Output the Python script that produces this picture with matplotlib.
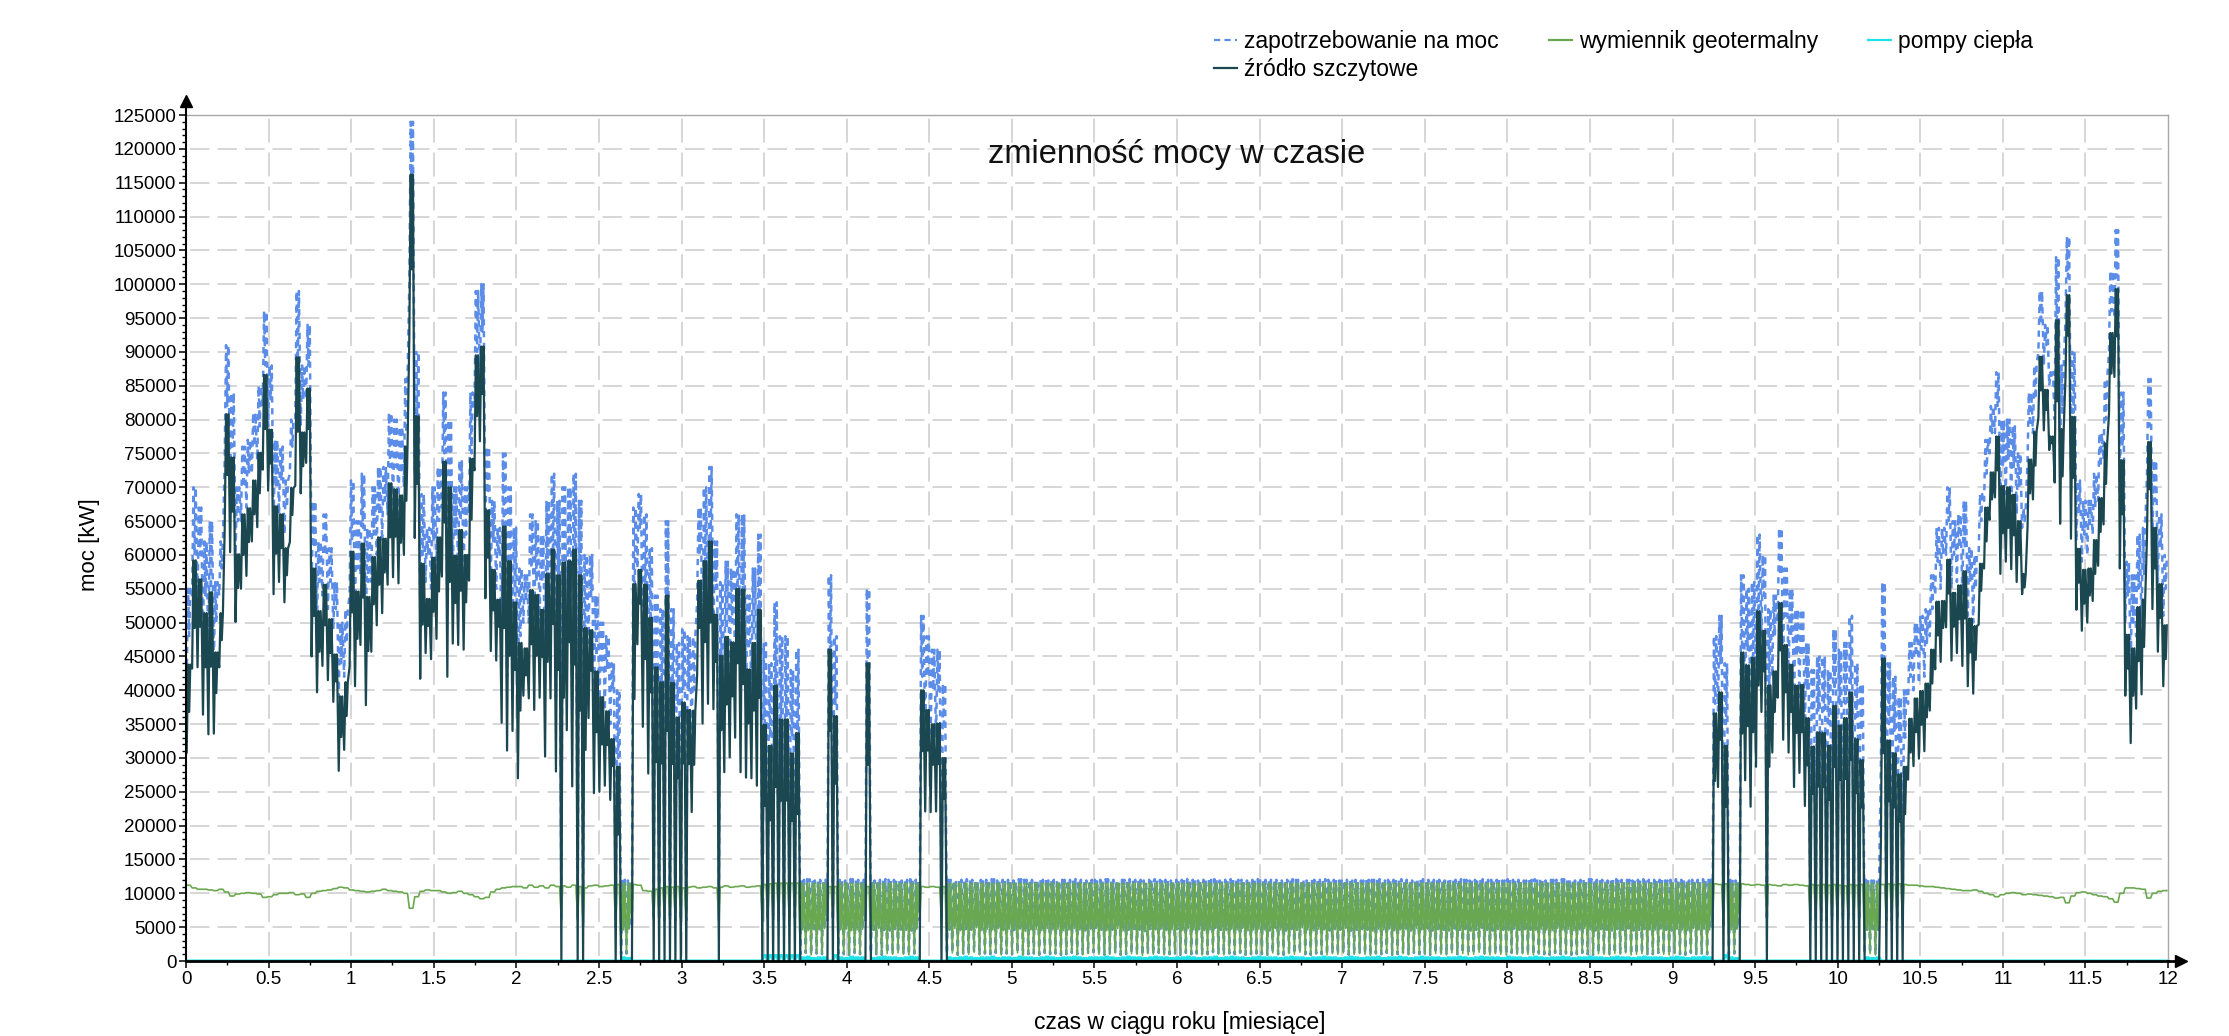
import numpy as np
import matplotlib
matplotlib.use("Agg")
import matplotlib.pyplot as plt
from matplotlib.lines import Line2D
from matplotlib.ticker import MultipleLocator, FuncFormatter

plt.rcParams['font.family'] = ['Liberation Sans', 'DejaVu Sans']
plt.rcParams['lines.scale_dashes'] = False

# ---------------------------------------------------------------------------
# Daily heat demand of the network, thousands of kW (one value per day of year)
# peak: daily maximum, dip: midday lower level, night: overnight minimum
# ---------------------------------------------------------------------------
demand_peak = [
    55, 70, 67, 62, 65, 56, 62, 91, 84, 70,
    76, 77, 81, 85, 96, 88, 77, 76, 71, 80,
    99, 88, 94, 68, 62, 66, 61, 56, 50, 52,
    71, 65, 72, 64, 70, 73, 73, 81, 80, 79,
    86, 124, 90, 69, 64, 70, 73, 84, 80, 70,
    74, 70, 84, 99, 100, 76, 68, 64, 75, 70,
    64, 58, 57, 66, 65, 63, 68, 72, 68, 70,
    70, 72, 68, 60, 60, 54, 50, 48, 44, 40,
    12.0, 11.9, 67, 69, 66, 61, 54, 52, 65, 52,
    47, 49, 48, 48, 67, 70, 73, 62, 56, 59,
    58, 66, 66, 54, 58, 63, 47, 44, 53, 48,
    48, 43, 46, 12.0, 12.1, 11.9, 12.0, 12.0, 57, 48,
    12.0, 11.9, 12.1, 12.0, 12.0, 55, 11.9, 12.0, 12.1, 12.0,
    12.0, 11.9, 12.0, 12.1, 12.0, 51, 48, 46, 46, 41,
    12.0, 11.9, 12.0, 12.1, 12.0, 11.9, 12.0, 12.0, 12.1, 11.9,
    12.0, 12.0, 11.9, 12.1, 12.0, 12.0, 11.9, 12.0, 12.1, 12.0,
    11.9, 12.0, 12.0, 12.1, 12.0, 11.9, 12.0, 12.0, 12.0, 12.1,
    12.0, 11.9, 12.0, 12.1, 12.0, 12.0, 11.9, 12.0, 12.1, 12.0,
    12.0, 11.9, 12.0, 12.0, 12.1, 12.0, 11.9, 12.0, 12.0, 12.1,
    11.9, 12.0, 12.1, 12.0, 12.0, 11.9, 12.0, 12.1, 12.0, 12.0,
    12.0, 11.9, 12.0, 12.1, 12.0, 12.0, 11.9, 12.0, 12.0, 12.1,
    12.0, 12.0, 11.9, 12.0, 12.1, 12.0, 11.9, 12.0, 12.0, 12.1,
    11.9, 12.0, 12.0, 12.1, 12.0, 11.9, 12.0, 12.1, 12.0, 12.0,
    12.0, 11.9, 12.0, 12.0, 12.1, 12.0, 11.9, 12.0, 12.1, 12.0,
    12.0, 12.0, 11.9, 12.1, 12.0, 12.0, 11.9, 12.0, 12.1, 12.0,
    11.9, 12.0, 12.0, 12.1, 12.0, 11.9, 12.0, 12.0, 12.1, 12.0,
    12.0, 11.9, 12.0, 12.1, 12.0, 12.0, 11.9, 12.0, 12.1, 12.0,
    12.0, 12.0, 11.9, 12.0, 12.1, 12.0, 11.9, 12.0, 12.0, 12.1,
    12.0, 48, 51, 44, 12.0, 11.9, 57, 55, 56, 63,
    60, 52, 54, 64, 58, 55, 52, 52, 47, 43,
    45, 45, 43, 49, 46, 47, 51, 44, 41, 12.0,
    11.9, 12.0, 56, 44, 42, 39, 40, 47, 50, 51,
    52, 57, 64, 64, 70, 65, 66, 68, 61, 60,
    69, 77, 82, 87, 80, 80, 79, 75, 67, 84,
    88, 99, 94, 87, 104, 88, 107, 90, 71, 68,
    68, 72, 78, 86, 102, 108, 84, 59, 57, 63,
    64, 86, 74, 66, 60,
]

demand_dip = [
    48, 60, 60, 54, 54, 50, 58, 82, 76, 65,
    70, 72, 76, 79, 88, 83, 70, 71, 67, 76,
    88, 83, 88, 61, 56, 60, 56, 52, 44, 47,
    62, 58, 64, 56, 63, 66, 68, 73, 73, 72,
    78, 110, 80, 60, 60, 62, 65, 75, 66, 63,
    65, 63, 75, 90, 93, 69, 62, 60, 60, 56,
    54, 48, 53, 58, 56, 56, 55, 61, 54, 50,
    58, 55, 48, 42, 54, 45, 43, 43, 40, 30,
    4.6, 4.7, 50, 64, 55, 50, 40, 40, 45, 40,
    38, 40, 40, 40, 60, 58, 61, 55, 45, 49,
    50, 55, 52, 46, 48, 50, 35, 33, 38, 36,
    36, 33, 34, 4.6, 4.5, 4.7, 4.6, 4.8, 45, 38,
    4.6, 4.7, 4.5, 4.6, 4.7, 40, 4.6, 4.8, 4.6, 4.5,
    4.7, 4.6, 4.6, 4.5, 4.7, 42, 42, 40, 40, 35,
    4.6, 4.8, 4.5, 4.7, 4.6, 4.9, 4.5, 4.7, 4.6, 4.8,
    4.5, 4.7, 4.6, 4.8, 4.4, 4.6, 4.7, 4.5, 4.8, 4.6,
    4.7, 4.5, 4.6, 4.8, 4.6, 4.5, 4.7, 4.9, 4.6, 4.5,
    4.6, 4.8, 4.5, 4.6, 4.7, 4.6, 4.4, 4.7, 4.6, 4.8,
    4.5, 4.6, 4.7, 4.5, 4.8, 4.6, 4.7, 4.5, 4.6, 4.9,
    4.6, 4.5, 4.7, 4.6, 4.8, 4.5, 4.6, 4.7, 4.6, 4.5,
    4.8, 4.6, 4.5, 4.7, 4.6, 4.9, 4.6, 4.5, 4.7, 4.6,
    4.5, 4.7, 4.6, 4.8, 4.5, 4.6, 4.7, 4.6, 4.4, 4.7,
    4.6, 4.8, 4.5, 4.6, 4.7, 4.5, 4.8, 4.6, 4.7, 4.5,
    4.7, 4.6, 4.5, 4.8, 4.6, 4.7, 4.5, 4.6, 4.9, 4.6,
    4.5, 4.7, 4.6, 4.5, 4.8, 4.6, 4.7, 4.6, 4.5, 4.7,
    4.6, 4.5, 4.8, 4.6, 4.7, 4.5, 4.6, 4.8, 4.6, 4.5,
    4.7, 4.6, 4.5, 4.7, 4.6, 4.8, 4.5, 4.6, 4.7, 4.6,
    4.6, 4.8, 4.6, 4.5, 4.7, 4.6, 4.5, 4.8, 4.6, 4.7,
    4.6, 38, 44, 35, 4.6, 4.7, 45, 46, 45, 52,
    54, 40, 48, 57, 51, 48, 45, 45, 40, 36,
    37, 37, 35, 40, 38, 38, 41, 36, 34, 4.6,
    4.7, 4.6, 42, 35, 34, 32, 33, 42, 45, 46,
    47, 52, 59, 60, 65, 60, 61, 61, 56, 55,
    65, 72, 78, 82, 73, 74, 73, 70, 65, 79,
    83, 94, 91, 86, 92, 81, 101, 81, 66, 63,
    64, 67, 73, 80, 96, 101, 76, 54, 50, 55,
    57, 79, 68, 61, 55,
]

demand_night = [
    42, 54, 54, 47, 44, 44, 54, 74, 70, 60,
    65, 67, 72, 74, 82, 79, 64, 66, 63, 72,
    80, 79, 83, 55, 50, 54, 52, 49, 39, 42,
    54, 51, 57, 48, 56, 60, 62, 66, 67, 66,
    70, 100, 72, 52, 56, 55, 58, 67, 52, 57,
    57, 56, 66, 82, 86, 63, 56, 55, 46, 42,
    45, 38, 50, 50, 48, 50, 41, 50, 39, 6,
    45, 37, 6, 5, 47, 36, 36, 37, 35, 5,
    1.0, 1.1, 5, 58, 45, 38, 6, 6, 6, 6,
    6, 6, 6, 33, 53, 46, 49, 48, 6, 39,
    41, 44, 39, 38, 38, 37, 6, 6, 6, 6,
    6, 6, 6, 1.0, 1.2, 0.9, 1.1, 1.0, 6, 6,
    1.1, 1.0, 0.9, 1.2, 1.0, 6, 1.1, 1.0, 0.9, 1.1,
    1.0, 1.2, 1.0, 0.9, 1.1, 6, 33, 33, 33, 6,
    1.0, 1.2, 0.9, 1.1, 1.0, 1.3, 0.9, 1.1, 1.0, 1.2,
    0.9, 1.1, 1.0, 1.2, 0.8, 1.0, 1.1, 0.9, 1.2, 1.0,
    1.1, 0.9, 1.0, 1.2, 1.0, 0.9, 1.1, 1.3, 1.0, 0.9,
    1.0, 1.2, 0.9, 1.0, 1.1, 1.0, 0.8, 1.1, 1.0, 1.2,
    0.9, 1.0, 1.1, 0.9, 1.2, 1.0, 1.1, 0.9, 1.0, 1.3,
    1.0, 0.9, 1.1, 1.0, 1.2, 0.9, 1.0, 1.1, 1.0, 0.9,
    1.2, 1.0, 0.9, 1.1, 1.0, 1.3, 1.0, 0.9, 1.1, 1.0,
    0.9, 1.1, 1.0, 1.2, 0.9, 1.0, 1.1, 1.0, 0.8, 1.1,
    1.0, 1.2, 0.9, 1.0, 1.1, 0.9, 1.2, 1.0, 1.1, 0.9,
    1.1, 1.0, 0.9, 1.2, 1.0, 1.1, 0.9, 1.0, 1.3, 1.0,
    0.9, 1.1, 1.0, 0.9, 1.2, 1.0, 1.1, 1.0, 0.9, 1.1,
    1.0, 0.9, 1.2, 1.0, 1.1, 0.9, 1.0, 1.2, 1.0, 0.9,
    1.1, 1.0, 0.9, 1.1, 1.0, 1.2, 0.9, 1.0, 1.1, 1.0,
    1.0, 1.2, 1.0, 0.9, 1.1, 1.0, 0.9, 1.2, 1.0, 1.1,
    1.0, 5, 37, 5, 1.0, 1.1, 5, 38, 34, 40,
    48, 6, 42, 50, 44, 42, 37, 39, 34, 6,
    6, 6, 6, 6, 6, 6, 6, 6, 6, 1.0,
    1.1, 0.9, 29, 6, 6, 6, 6, 38, 40, 41,
    42, 48, 54, 55, 60, 55, 56, 54, 51, 50,
    60, 68, 75, 78, 67, 69, 68, 66, 64, 74,
    78, 90, 88, 85, 80, 74, 95, 72, 62, 59,
    60, 63, 68, 74, 90, 95, 68, 50, 43, 48,
    50, 72, 62, 56, 51,
]

# Available output of the geothermal exchanger, thousands of kW per day
geo_capacity = [
    11.2, 10.8, 10.6, 10.6, 10.5, 10.4, 10.6, 10.2, 9.6, 9.9,
    10.0, 10.1, 10.0, 9.9, 9.4, 9.5, 9.8, 10.0, 10.0, 10.1,
    9.8, 9.9, 9.4, 10.0, 10.3, 10.4, 10.5, 10.7, 10.9, 10.8,
    10.5, 10.4, 10.3, 10.2, 10.3, 10.4, 10.6, 10.4, 10.3, 10.2,
    10.0, 7.8, 9.5, 10.3, 10.5, 10.4, 10.4, 10.2, 10.0, 10.1,
    10.3, 10.0, 9.8, 9.5, 9.2, 9.4, 10.2, 10.6, 10.8, 10.9,
    11.0, 11.0, 10.8, 11.2, 10.9, 11.1, 10.8, 11.2, 11.0, 11.1,
    10.9, 11.2, 11.0, 10.8, 11.1, 11.2, 11.0, 11.1, 11.2, 11.3,
    11.5, 11.5, 11.3, 11.2, 10.4, 10.3, 10.6, 10.8, 11.0, 10.9,
    11.0, 10.8, 10.9, 11.0, 10.8, 10.9, 11.0, 10.8, 10.9, 11.1,
    10.9, 11.0, 11.1, 10.9, 11.0, 11.1, 11.3, 11.4, 11.5, 11.5,
    11.5, 11.5, 11.5, 11.5, 11.5, 11.5, 11.5, 11.5, 11.0, 11.0,
    11.5, 11.5, 11.5, 11.5, 11.5, 11.0, 11.5, 11.5, 11.5, 11.5,
    11.5, 11.5, 11.5, 11.5, 11.5, 11.0, 10.9, 11.0, 10.9, 11.0,
    11.5, 11.5, 11.5, 11.5, 11.5, 11.5, 11.5, 11.5, 11.5, 11.5,
    11.5, 11.5, 11.5, 11.5, 11.5, 11.5, 11.5, 11.5, 11.5, 11.5,
    11.5, 11.5, 11.5, 11.5, 11.5, 11.5, 11.5, 11.5, 11.5, 11.5,
    11.5, 11.5, 11.5, 11.5, 11.5, 11.5, 11.5, 11.5, 11.5, 11.5,
    11.5, 11.5, 11.5, 11.5, 11.5, 11.5, 11.5, 11.5, 11.5, 11.5,
    11.5, 11.5, 11.5, 11.5, 11.5, 11.5, 11.5, 11.5, 11.5, 11.5,
    11.5, 11.5, 11.5, 11.5, 11.5, 11.5, 11.5, 11.5, 11.5, 11.5,
    11.5, 11.5, 11.5, 11.5, 11.5, 11.5, 11.5, 11.5, 11.5, 11.5,
    11.5, 11.5, 11.5, 11.5, 11.5, 11.5, 11.5, 11.5, 11.5, 11.5,
    11.5, 11.5, 11.5, 11.5, 11.5, 11.5, 11.5, 11.5, 11.5, 11.5,
    11.5, 11.5, 11.5, 11.5, 11.5, 11.5, 11.5, 11.5, 11.5, 11.5,
    11.5, 11.5, 11.5, 11.5, 11.5, 11.5, 11.5, 11.5, 11.5, 11.5,
    11.5, 11.5, 11.5, 11.5, 11.5, 11.5, 11.5, 11.5, 11.5, 11.5,
    11.5, 11.5, 11.5, 11.5, 11.5, 11.5, 11.5, 11.5, 11.5, 11.5,
    11.5, 11.4, 11.3, 11.4, 11.5, 11.5, 11.4, 11.3, 11.2, 11.3,
    11.2, 11.3, 11.2, 11.1, 11.3, 11.2, 11.3, 11.2, 11.1, 11.3,
    11.2, 11.3, 11.2, 11.3, 11.2, 11.1, 11.3, 11.2, 11.3, 11.5,
    11.5, 11.5, 11.3, 11.4, 11.3, 11.4, 11.3, 11.2, 11.2, 11.1,
    11.0, 11.0, 10.9, 10.8, 10.7, 10.6, 10.5, 10.4, 10.4, 10.5,
    10.3, 10.0, 9.8, 9.5, 9.8, 10.0, 10.1, 10.0, 9.8, 9.9,
    9.8, 9.7, 9.6, 9.5, 9.3, 9.4, 8.6, 9.6, 10.1, 10.2,
    10.0, 9.8, 9.6, 9.5, 9.2, 8.7, 10.0, 10.8, 10.8, 10.7,
    10.6, 9.3, 10.0, 10.3, 10.4,
]

# Heat pumps: capacity (thousands of kW) and the periods (months) they run
heat_pump_capacity = 0.8
heat_pump_periods = [(2.62, 2.70), (3.49, 3.88), (3.92, 4.12), (4.13, 4.43),
                     (4.59, 9.23), (9.32, 9.40), (10.15, 10.25)]

legend_labels = ["zapotrzebowanie na moc", "źródło szczytowe",
                 "wymiennik geotermalny", "pompy ciepła"]

# ---------------------------------------------------------------------------
n_days = len(demand_peak)
for arr in (demand_dip, demand_night, geo_capacity):
    assert len(arr) == n_days, len(arr)

# hours of the day at which night minimum / peak / dip / peak occur
day_hours = np.array([3, 9, 14, 19]) / 24.0
days = np.arange(n_days)
t = ((days[:, None] + day_hours[None, :]) * 12.0 / n_days).ravel()

kw = 1000.0
demand = np.column_stack([demand_night, demand_peak, demand_dip, demand_peak]).ravel() * kw
cap = np.repeat(np.asarray(geo_capacity, float), 4) * kw
mid_month = (days + 0.5) * 12.0 / n_days
pump_on = np.zeros(n_days, bool)
for a, b in heat_pump_periods:
    pump_on |= (mid_month >= a) & (mid_month < b)
pump_cap = np.repeat(np.where(pump_on, heat_pump_capacity, 0.0), 4) * kw

# energy balance: geothermal first, then heat pumps, the rest from the peak source
geo = np.minimum(demand, cap)
pump = np.minimum(demand - geo, pump_cap)
peak = demand - geo - pump

c_demand = '#5b8de8'
c_geo = '#6aa84f'
c_pump = '#1fe3ea'
c_peak = '#1b4750'
c_grid = '#cbcbcb'

fig = plt.figure(figsize=(22.29, 10.36), dpi=100)
ax = fig.add_axes([0.08345, 0.07239, 0.8892, 0.8166])

ax.set_xlim(0, 12)
ax.set_ylim(0, 125000)

# dashed grid
for yv in range(5000, 125000, 5000):
    ax.axhline(yv, color=c_grid, lw=1.1, linestyle=(16.9, (14.0, 5.8)), zorder=0.5)
for xv in np.arange(0.5, 12.0, 0.5):
    ax.axvline(xv, color=c_grid, lw=1.1, linestyle=(20.8, (17.3, 7.1)), zorder=0.5)

ax.plot(t, demand, color=c_demand, lw=1.8, dashes=(4.5, 4.0), zorder=2)
ax.plot(t, geo, color=c_geo, lw=1.2, zorder=2.1)
ax.plot(t, pump, color=c_pump, lw=2.2, zorder=2.2)
ax.plot(t, peak, color=c_peak, lw=1.6, zorder=2.3)

# axes, ticks
ax.xaxis.set_major_locator(MultipleLocator(0.5))
ax.xaxis.set_minor_locator(MultipleLocator(0.25))
ax.yaxis.set_major_locator(MultipleLocator(5000))
ax.yaxis.set_minor_locator(MultipleLocator(1000))
ax.xaxis.set_major_formatter(FuncFormatter(lambda v, p: f"{v:g}"))
ax.yaxis.set_major_formatter(FuncFormatter(lambda v, p: f"{v:.0f}"))
ax.tick_params(axis='both', which='major', direction='out', length=5, width=1.1,
               labelsize=13.5, pad=2, colors='black')
ax.tick_params(axis='both', which='minor', direction='out', length=3, width=1.0)

for s in ('top', 'right'):
    ax.spines[s].set_color('#a8a8a8')
    ax.spines[s].set_linewidth(1.0)
ax.spines['left'].set_color('black')
ax.spines['left'].set_linewidth(1.5)
ax.spines['bottom'].set_color('black')
ax.spines['bottom'].set_linewidth(2.0)
for s in ax.spines.values():
    s.set_zorder(3)

# axis arrows
ax.plot([0, 0], [1.0, 1.012], color='black', lw=1.5, transform=ax.transAxes,
        clip_on=False, zorder=4)
ax.plot([0], [1.016], marker='^', ms=9, color='black', transform=ax.transAxes,
        clip_on=False, zorder=4)
ax.plot([1.0, 1.004], [0, 0], color='black', lw=2.0, transform=ax.transAxes,
        clip_on=False, zorder=4)
ax.plot([1.0065], [0], marker='>', ms=9, color='black', transform=ax.transAxes,
        clip_on=False, zorder=4)

ax.text(0.5, 0.953, 'zmienność mocy w czasie', transform=ax.transAxes,
        ha='center', va='center', fontsize=23.5, color='#111111', zorder=5)

fig.text(0.0400, 0.474, 'moc [kW]', rotation=90, ha='center', va='center', fontsize=16)
fig.text(0.5294, 0.0135, 'czas w ciągu roku [miesiące]', ha='center', va='center',
         fontsize=16.5)

handles = [
    Line2D([], [], color=c_demand, lw=1.6, dashes=(4.5, 3.0)),
    Line2D([], [], color=c_peak, lw=1.6),
    Line2D([], [], color=c_geo, lw=1.6),
    Line2D([], [], color=c_pump, lw=1.6),
]
fig.legend(handles, legend_labels, ncol=3, loc='upper left',
           bbox_to_anchor=(0.5447, 0.9715), frameon=False, fontsize=16.5,
           handlelength=1.0, handletextpad=0.3, columnspacing=2.2,
           labelspacing=0.22, borderpad=0, borderaxespad=0)

fig.savefig('out.png', dpi=100)
